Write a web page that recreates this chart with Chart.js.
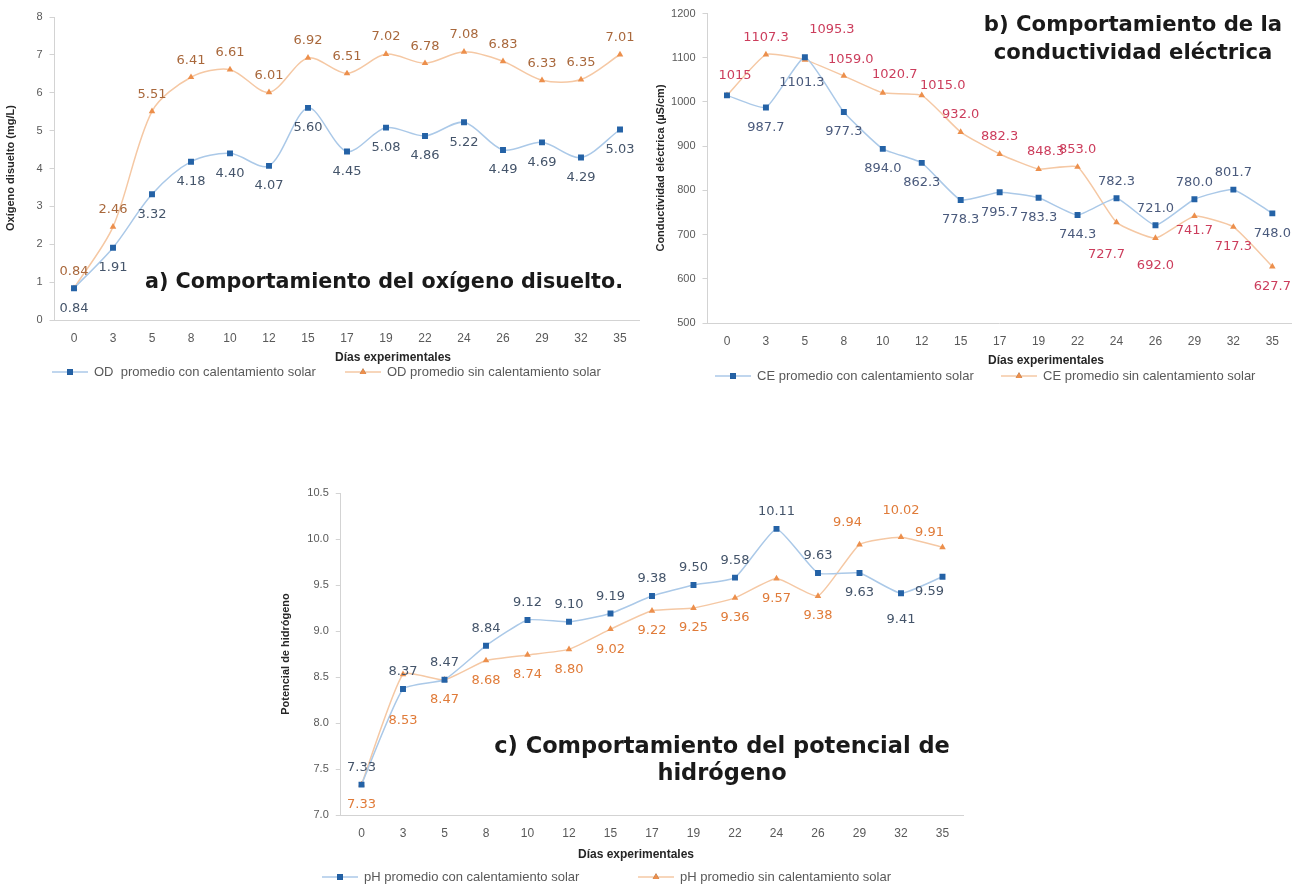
<!DOCTYPE html>
<html>
<head>
<meta charset="utf-8">
<script src="https://cdn.jsdelivr.net/npm/chart.js@4.4.1/dist/chart.umd.min.js"></script>
<style>
  html, body { margin: 0; padding: 0; background: #fff; }
  #wrap { position: relative; width: 1296px; height: 888px; overflow: hidden; }
  #wrap canvas { position: absolute; left: 0; top: 0; }
</style>
</head>
<body>
<div id="wrap">
  <canvas id="od" width="1296" height="888"></canvas>
  <canvas id="ce" width="1296" height="888"></canvas>
  <canvas id="ph" width="1296" height="888"></canvas>
</div>
<script>
// Experimental days (category axis shared by the three panels)
const days = ['0', '3', '5', '8', '10', '12', '15', '17', '19', '22', '24', '26', '29', '32', '35'];

// a) dissolved oxygen, mg/L
const odCon = [0.84, 1.91, 3.32, 4.18, 4.40, 4.07, 5.60, 4.45, 5.08, 4.86, 5.22, 4.49, 4.69, 4.29, 5.03];
const odSin = [0.84, 2.46, 5.51, 6.41, 6.61, 6.01, 6.92, 6.51, 7.02, 6.78, 7.08, 6.83, 6.33, 6.35, 7.01];

// b) electrical conductivity, uS/cm
const ceCon = [1015, 987.7, 1101.3, 977.3, 894.0, 862.3, 778.3, 795.7, 783.3, 744.3, 782.3, 721.0, 780.0, 801.7, 748.0];
const ceSin = [1015, 1107.3, 1095.3, 1059.0, 1020.7, 1015.0, 932.0, 882.3, 848.3, 853.0, 727.7, 692.0, 741.7, 717.3, 627.7];

// c) pH
const phCon = [7.33, 8.37, 8.47, 8.84, 9.12, 9.10, 9.19, 9.38, 9.50, 9.58, 10.11, 9.63, 9.63, 9.41, 9.59];
const phSin = [7.33, 8.53, 8.47, 8.68, 8.74, 8.80, 9.02, 9.22, 9.25, 9.36, 9.57, 9.38, 9.94, 10.02, 9.91];

// y-axis ticks: min, max, step
const odTicks = [0, 8, 1];
const ceTicks = [500, 1200, 100];
const phTicks = [7.0, 10.5, 0.5];

// label placement: 'a' above, 'b' below, 'n' hidden, or a [dx, dy] nudge
const odConPos = Array(15).fill('b');
const odSinPos = Array(15).fill('a');
const ceConPos = ['n', 'b', [-3, 25], 'b', 'b', 'b', 'b', 'b', 'b', 'b', 'a', 'a', 'a', 'a', 'b'];
const ceSinPos = [[8, -20], 'a', [27, -30], [7, -16], [12, -18], [21, -10], 'a', 'a', [7, -17], 'a', [-10, 32], [0, 27], [0, 14], 'b', 'b'];
const phConPos = ['a', 'a', 'a', 'a', 'a', 'a', 'a', 'a', 'a', 'a', 'a', 'a', 'b', [0, 26], [-13, 15]];
const phSinPos = ['b', [0, 46], 'b', 'b', 'b', 'b', 'b', 'b', 'b', 'b', 'b', 'b', [-12, -22], [0, -27], [-13, -15]];

const TICK_FONT = '"Liberation Sans", Arial, sans-serif';
const LABEL_FONT = '13px "DejaVu Sans", Verdana, sans-serif';
const TITLE_FONT = '"DejaVu Sans", Verdana, sans-serif';
const BLUE_LINE = '#abc9e8';
const BLUE_PT = '#2462a6';
const ORANGE_LINE = '#f5c8a4';
const ORANGE_PT = '#ec8f4c';
const AXIS = '#d3d3d3';
const GREY = '#595959';

function fmt(d) {
  return (v) => v.toFixed(d);
}

// Value labels, axis titles, legend and panel title drawn on top of the plot.
function makeDecor(c) {
  return {
    id: 'decor',
    afterDatasetsDraw(chart) {
      const ctx = chart.ctx;
      ctx.save();
      ctx.textAlign = 'center';
      ctx.textBaseline = 'middle';

      c.labels.forEach((l, di) => {
        const meta = chart.getDatasetMeta(di);
        ctx.font = LABEL_FONT;
        ctx.fillStyle = l.color;
        meta.data.forEach((pt, j) => {
          const p = l.pos[j];
          if (p === 'n') return;
          const [dx, dy] = p === 'a' ? [0, -17] : p === 'b' ? [0, 20] : p;
          ctx.fillText(l.text[j], pt.x + dx, pt.y + dy);
        });
      });

      // axis titles
      ctx.fillStyle = '#262626';
      ctx.font = 'bold 12px ' + TICK_FONT;
      ctx.fillText(c.xTitle.text, c.xTitle.x, c.xTitle.y);
      ctx.font = 'bold 11px ' + TICK_FONT;
      ctx.save();
      ctx.translate(c.yTitle.x, c.yTitle.y);
      ctx.rotate(-Math.PI / 2);
      ctx.fillText(c.yTitle.text, 0, 0);
      ctx.restore();

      // legend: line + marker + text
      ctx.font = '13px ' + TICK_FONT;
      ctx.textAlign = 'left';
      c.legend.items.forEach((it, i) => {
        const ds = chart.data.datasets[i];
        const y = c.legend.y;
        ctx.strokeStyle = ds.borderColor;
        ctx.lineWidth = 1.5;
        ctx.beginPath();
        ctx.moveTo(it.x, y);
        ctx.lineTo(it.x + 36, y);
        ctx.stroke();
        Chart.helpers.drawPoint(ctx, {
          pointStyle: ds.pointStyle, radius: ds.pointRadius, borderWidth: 0, rotation: 0
        }, it.x + 18, y);
        ctx.fillStyle = ds.pointBackgroundColor;
        ctx.fill();
        ctx.fillStyle = GREY;
        ctx.fillText(it.text, it.x + 42, y);
      });

      // panel title
      ctx.fillStyle = '#1a1a1a';
      ctx.textAlign = 'center';
      ctx.font = 'bold ' + c.title.size + 'px ' + TITLE_FONT;
      c.title.lines.forEach((t, i) => ctx.fillText(t, c.title.x, c.title.y + i * c.title.lh));
      ctx.restore();
    }
  };
}

function makeChart(id, c) {
  const [yMin, yMax, yStep] = c.ticks;
  return new Chart(document.getElementById(id), {
    type: 'line',
    data: {
      labels: days,
      datasets: [
        {
          data: c.con, borderColor: BLUE_LINE, borderWidth: 1.5, tension: c.tension,
          pointStyle: 'rect', pointRadius: 4.2, pointBackgroundColor: BLUE_PT,
          pointBorderColor: BLUE_PT, pointBorderWidth: 0
        },
        {
          data: c.sin, borderColor: ORANGE_LINE, borderWidth: 1.5, tension: c.tension,
          pointStyle: 'triangle', pointRadius: 3.8, pointBackgroundColor: ORANGE_PT,
          pointBorderColor: ORANGE_PT, pointBorderWidth: 0
        }
      ]
    },
    options: {
      responsive: false,
      animation: false,
      events: [],
      layout: {
        padding: { left: c.box.left - 40, right: 1296 - c.box.right, top: c.box.top, bottom: 888 - c.box.bottom - 30 }
      },
      plugins: { legend: { display: false }, tooltip: { enabled: false } },
      scales: {
        x: {
          offset: true,
          grid: { display: false, drawTicks: false },
          border: { color: AXIS },
          ticks: { color: GREY, font: { family: TICK_FONT, size: 12 }, padding: 11, maxRotation: 0, autoSkip: false },
          afterFit: (s) => { s.height = 30; }
        },
        y: {
          min: yMin, max: yMax,
          grid: { drawOnChartArea: false, tickLength: 5, color: AXIS },
          border: { color: AXIS },
          ticks: { stepSize: yStep, color: GREY, font: { family: TICK_FONT, size: 11 }, padding: 7, callback: c.tickFmt },
          afterFit: (s) => { s.width = 40; }
        }
      }
    },
    plugins: [makeDecor(c)]
  });
}

makeChart('od', {
  con: odCon, sin: odSin, ticks: odTicks, tension: 0.3, tickFmt: fmt(0),
  box: { left: 54.5, right: 639.5, top: 17, bottom: 320 },
  labels: [
    { text: odCon.map(fmt(2)), pos: odConPos, color: '#44546a' },
    { text: odSin.map(fmt(2)), pos: odSinPos, color: '#a9683c' }
  ],
  xTitle: { text: 'Días experimentales', x: 393, y: 358 },
  yTitle: { text: 'Oxígeno disuelto (mg/L)', x: 11, y: 168 },
  legend: { y: 372, items: [
    { x: 52, text: 'OD  promedio con calentamiento solar' },
    { x: 345, text: 'OD promedio sin calentamiento solar' }
  ] },
  title: { lines: ['a) Comportamiento del oxígeno disuelto.'], x: 384, y: 283, lh: 26, size: 20.7 }
});

makeChart('ce', {
  con: ceCon, sin: ceSin, ticks: ceTicks, tension: 0.15, tickFmt: fmt(0),
  box: { left: 707.5, right: 1292.5, top: 13, bottom: 323 },
  labels: [
    { text: ceCon.map(fmt(1)), pos: ceConPos, color: '#4a5a7c' },
    { text: ceSin.map((v, i) => (i === 0 ? String(v) : v.toFixed(1))), pos: ceSinPos, color: '#cc3d5c' }
  ],
  xTitle: { text: 'Días experimentales', x: 1046, y: 361 },
  yTitle: { text: 'Conductividad eléctrica (µS/cm)', x: 661, y: 168 },
  legend: { y: 376, items: [
    { x: 715, text: 'CE promedio con calentamiento solar' },
    { x: 1001, text: 'CE promedio sin calentamiento solar' }
  ] },
  title: { lines: ['b) Comportamiento de la', 'conductividad eléctrica'], x: 1133, y: 25, lh: 28, size: 21.2 }
});

makeChart('ph', {
  con: phCon, sin: phSin, ticks: phTicks, tension: 0.15, tickFmt: fmt(1),
  box: { left: 340.75, right: 963.25, top: 493, bottom: 815 },
  labels: [
    { text: phCon.map(fmt(2)), pos: phConPos, color: '#44546a' },
    { text: phSin.map(fmt(2)), pos: phSinPos, color: '#e07b39' }
  ],
  xTitle: { text: 'Días experimentales', x: 636, y: 855 },
  yTitle: { text: 'Potencial de hidrógeno', x: 286, y: 654 },
  legend: { y: 877, items: [
    { x: 322, text: 'pH promedio con calentamiento solar' },
    { x: 638, text: 'pH promedio sin calentamiento solar' }
  ] },
  title: { lines: ['c) Comportamiento del potencial de', 'hidrógeno'], x: 722, y: 747, lh: 27, size: 22.5 }
});
</script>
</body>
</html>
